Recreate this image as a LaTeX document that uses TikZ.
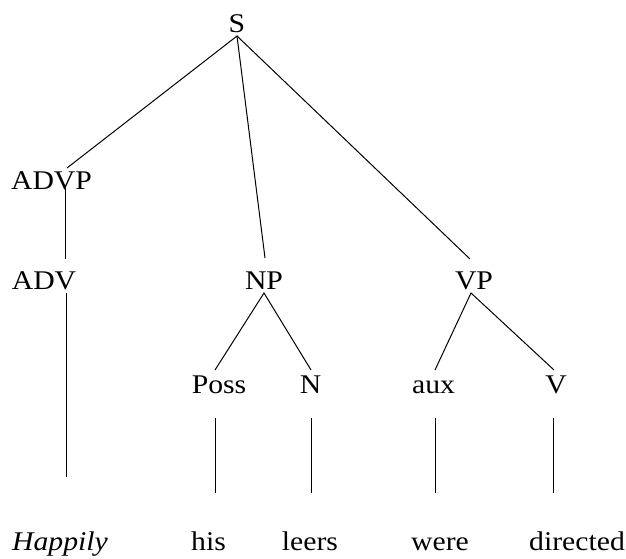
\documentclass[tikz,border=0pt]{standalone}
\usepackage{fontspec}
\setmainfont[FakeStretch=1.1]{Liberation Serif}
\usepackage{tikz}
\usetikzlibrary{positioning,calc}

\tikzset{
    cat/.style={inner sep=0pt, anchor=base, font=\fontsize{27}{32}\selectfont},
    word/.style={cat},
    branch/.style={line width=1pt}
}

\begin{document}
\begin{tikzpicture}[x=1pt, y=-1pt]
    \useasboundingbox (0,0) rectangle (626,559);

    % Categories
    \node[cat] (S) at (237,33) {S};
    \node[cat] (ADVP) at (51.5,189) {ADVP};
    \node[cat] (ADV) at (44,289) {ADV};
    \node[cat] (NP) at (264,289) {NP};
    \node[cat] (VP) at (474,289) {VP};
    \node[cat] (Poss) at (219,393) {Poss};
    \node[cat] (N) at (310.5,393) {N};
    \node[cat] (aux) at (433.5,393) {aux};
    \node[cat] (V) at (556,393) {V};

    % Words
    \node[word] (happily) at (60,550) {\textit{Happily}};
    \node[word] (his) at (208.5,550) {his};
    \node[word] (leers) at (310,550) {leers};
    \node[word] (were) at (440,550) {were};
    \node[word] (directed) at (577,550) {directed};

    % Branch ends
    \coordinate (sB) at (237,36);
    \coordinate (advpT) at (67,168);
    \coordinate (advpB) at (65,188);
    \coordinate (advT) at (65,259);
    \coordinate (advB) at (66,293);
    \coordinate (happilyT) at (66,477);
    \coordinate (npT) at (265,258);
    \coordinate (npB) at (264,293);
    \coordinate (vpT) at (470,259);
    \coordinate (vpB) at (471,293);
    \coordinate (possT) at (215,370);
    \coordinate (possB) at (215,418);
    \coordinate (hisT) at (215,493);
    \coordinate (nT) at (311,370);
    \coordinate (nB) at (311,418);
    \coordinate (leersT) at (311,493);
    \coordinate (auxT) at (435,370);
    \coordinate (auxB) at (435,418);
    \coordinate (wereT) at (435,493);
    \coordinate (vT) at (554,370);
    \coordinate (vB) at (553,418);
    \coordinate (directedT) at (553,493);

    % Branches
    \draw[branch] (advpT) -- (sB) -- (npT);
    \draw[branch] (sB) -- (vpT);
    \draw[branch] (advpB) -- (advT);
    \draw[branch] (advB) -- (happilyT);
    \draw[branch] (possT) -- (npB) -- (nT);
    \draw[branch] (auxT) -- (vpB) -- (vT);
    \draw[branch] (possB) -- (hisT);
    \draw[branch] (nB) -- (leersT);
    \draw[branch] (auxB) -- (wereT);
    \draw[branch] (vB) -- (directedT);
\end{tikzpicture}
\end{document}
